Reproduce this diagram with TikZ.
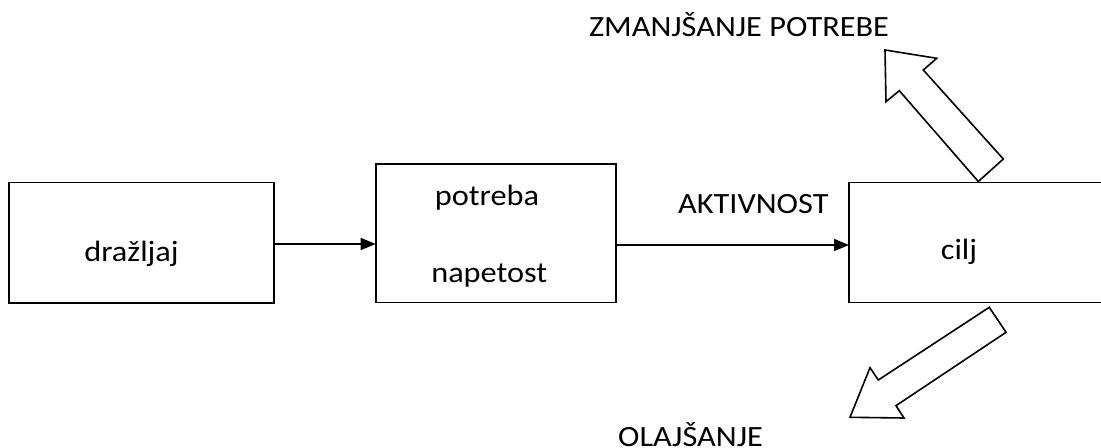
\documentclass[tikz,border=0pt]{standalone}
\usepackage{fontspec}
\setmainfont[FakeStretch=1.1]{Carlito}
\usetikzlibrary{arrows.meta}
\begin{document}
\begin{tikzpicture}[x=1bp,y=-1bp,
    box/.style={draw,line width=1.6bp,rectangle,inner sep=0pt,outer sep=0pt},
    lbl/.style={anchor=base,inner sep=0pt,font=\fontsize{29.5}{34}\selectfont},
    arr/.style={line width=1.5bp,-{Triangle[length=15bp,width=12bp]}},
    blockarrow/.style={draw,line width=1.6bp,line join=miter,fill=white}]
  \useasboundingbox (0,0) rectangle (1101,448);
  \clip (0,0) rectangle (1101,448);

  % boxes
  \node[box,minimum width=265bp,minimum height=120.5bp] (b1) at (141.5,242.75) {};
  \node[box,minimum width=240bp,minimum height=138.4bp] (b2) at (495.7,233.5) {};
  \node[box,minimum width=261bp,minimum height=120bp] (b3) at (979.5,242.6) {};

  % box texts
  \node[lbl] (t1) at (131.5,261.7) {dražljaj};
  \node[lbl] (t2a) at (487,206) {potreba};
  \node[lbl] (t2b) at (489.3,282.7) {napetost};
  \node[lbl] (t3) at (959,260) {cilj};

  % connectors
  \draw[arr] (b1.east |- 0,244) -- (b2.west |- 0,244);
  \draw[arr] (b2.east |- 0,245) -- (b3.west |- 0,245);
  \node[lbl] (akt) at (753.3,214) {AKTIVNOST};

  % block arrows leaving the goal box
  \draw[blockarrow] (978.3,181.5) -- (1003.3,159) -- (923.3,70) -- (936.7,58.3)
    -- (885,50) -- (886,101.7) -- (899.3,90.7) -- cycle;
  \draw[blockarrow] (989.3,307.3) -- (1006,332.3) -- (896,405.7) -- (904,418)
    -- (850,417.3) -- (870,367.7) -- (878.3,380) -- cycle;

  \node[lbl] (up) at (739,37) {ZMANJŠANJE POTREBE};
  \node[lbl] (down) at (690.5,446.5) {OLAJŠANJE};
\end{tikzpicture}
\end{document}
